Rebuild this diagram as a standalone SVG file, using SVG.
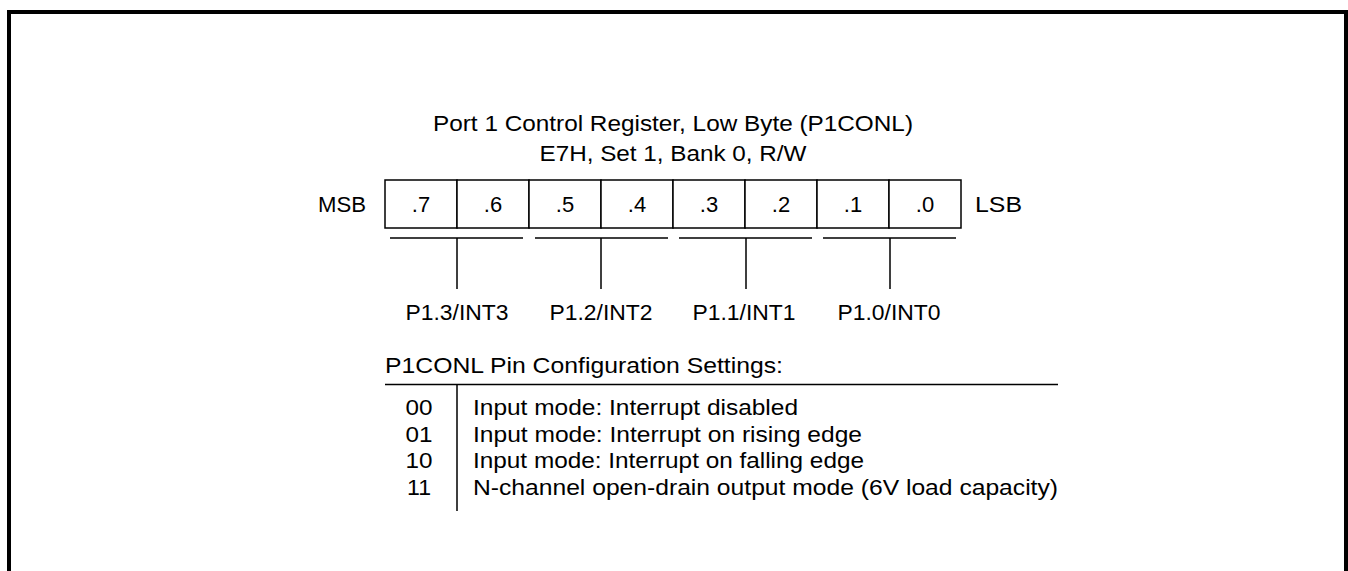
<svg xmlns="http://www.w3.org/2000/svg" width="1348" height="571" viewBox="0 0 1348 571">
<style>
text{font-family:"Liberation Sans",Arial,sans-serif;font-size:22px;fill:#000}
.m{text-anchor:middle}
.ln{stroke:#000;stroke-width:1.5;fill:none}
.cell{fill:#fff;stroke:#000;stroke-width:1.5}
</style>
<rect x="9" y="12" width="1337" height="600" fill="#fff" stroke="#000" stroke-width="4"/>
<g id="title">
<text class="m" x="673" y="131" textLength="480" lengthAdjust="spacingAndGlyphs">Port 1 Control Register, Low Byte (P1CONL)</text>
<text class="m" x="673" y="161" textLength="267" lengthAdjust="spacingAndGlyphs">E7H, Set 1, Bank 0, R/W</text>
</g>
<g id="register">
<text x="318" y="212" textLength="48" lengthAdjust="spacingAndGlyphs">MSB</text>
<text x="975" y="212" textLength="47" lengthAdjust="spacingAndGlyphs">LSB</text>
<rect class="cell" x="385" y="180" width="72" height="48"/>
<rect class="cell" x="457" y="180" width="72" height="48"/>
<rect class="cell" x="529" y="180" width="72" height="48"/>
<rect class="cell" x="601" y="180" width="72" height="48"/>
<rect class="cell" x="673" y="180" width="72" height="48"/>
<rect class="cell" x="745" y="180" width="72" height="48"/>
<rect class="cell" x="817" y="180" width="72" height="48"/>
<rect class="cell" x="889" y="180" width="72" height="48"/>
<text class="m" x="421" y="212">.7</text>
<text class="m" x="493" y="212">.6</text>
<text class="m" x="565" y="212">.5</text>
<text class="m" x="637" y="212">.4</text>
<text class="m" x="709" y="212">.3</text>
<text class="m" x="781" y="212">.2</text>
<text class="m" x="853" y="212">.1</text>
<text class="m" x="925" y="212">.0</text>
</g>
<g id="connectors">
<path class="ln" d="M390 238H523M457 238V289M535 238H668M601 238V289M679 238H812M746 238V289M823 238H956M890 238V289"/>
</g>
<g id="pins">
<text class="m" x="457" y="320" textLength="103" lengthAdjust="spacingAndGlyphs">P1.3/INT3</text>
<text class="m" x="601" y="320" textLength="103" lengthAdjust="spacingAndGlyphs">P1.2/INT2</text>
<text class="m" x="744" y="320" textLength="103" lengthAdjust="spacingAndGlyphs">P1.1/INT1</text>
<text class="m" x="889" y="320" textLength="103" lengthAdjust="spacingAndGlyphs">P1.0/INT0</text>
</g>
<g id="settings">
<text x="385" y="373" textLength="398" lengthAdjust="spacingAndGlyphs">P1CONL Pin Configuration Settings:</text>
<path class="ln" d="M385 384.5H1058M457 384.5V511"/>
<text class="m" x="419" y="415" textLength="27" lengthAdjust="spacingAndGlyphs">00</text>
<text class="m" x="419" y="442" textLength="27" lengthAdjust="spacingAndGlyphs">01</text>
<text class="m" x="419" y="468" textLength="27" lengthAdjust="spacingAndGlyphs">10</text>
<text class="m" x="419" y="495" textLength="24" lengthAdjust="spacingAndGlyphs">11</text>
<text x="473" y="415" textLength="325" lengthAdjust="spacingAndGlyphs">Input mode: Interrupt disabled</text>
<text x="473" y="442" textLength="389" lengthAdjust="spacingAndGlyphs">Input mode: Interrupt on rising edge</text>
<text x="473" y="468" textLength="391" lengthAdjust="spacingAndGlyphs">Input mode: Interrupt on falling edge</text>
<text x="473" y="495" textLength="585" lengthAdjust="spacingAndGlyphs">N-channel open-drain output mode (6V load capacity)</text>
</g>
</svg>
